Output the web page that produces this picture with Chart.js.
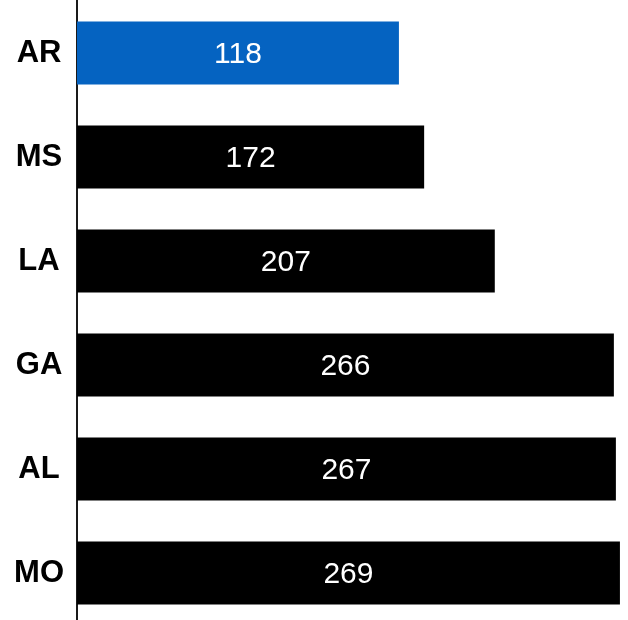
<!DOCTYPE html>
<html>
<head>
<meta charset="utf-8">
<script src="https://cdn.jsdelivr.net/npm/chart.js@4/dist/chart.umd.min.js"></script>
<style>
html,body{margin:0;padding:0;background:#fff;overflow:hidden;}
#wrap{position:absolute;left:0;top:0;width:628px;height:628px;}
</style>
</head>
<body>
<div id="wrap"><canvas id="c" width="628" height="628"></canvas></div>
<script>
// Data
const categories = ["AR", "MS", "LA", "GA", "AL", "MO"];
// Bar lengths as drawn (the AR bar is drawn longer than its printed label)
const barValues = [159.5, 172, 207, 266, 267, 269];
// Printed value labels
const labelValues = [118, 172, 207, 266, 267, 269];
const barColors = ["#0563C1", "#000000", "#000000", "#000000", "#000000", "#000000"];

const valueLabels = {
  id: 'valueLabels',
  afterDatasetsDraw(chart) {
    const ctx = chart.ctx;
    const meta = chart.getDatasetMeta(0);
    ctx.save();
    ctx.fillStyle = '#ffffff';
    ctx.font = '30px "Liberation Sans", Arial, sans-serif';
    ctx.textAlign = 'center';
    ctx.textBaseline = 'middle';
    meta.data.forEach((bar, i) => {
      const cx = (bar.x + bar.base) / 2;
      ctx.fillText(String(labelValues[i]), cx, bar.y + 1.5);
    });
    ctx.restore();
  }
};

new Chart(document.getElementById('c'), {
  type: 'bar',
  data: {
    labels: categories,
    datasets: [{
      data: barValues,
      backgroundColor: barColors,
      borderWidth: 0,
      categoryPercentage: 0.606,
      barPercentage: 1
    }]
  },
  options: {
    indexAxis: 'y',
    responsive: false,
    animation: false,
    layout: { padding: { top: 1, bottom: 3, left: 0, right: 0 } },
    plugins: { legend: { display: false }, tooltip: { enabled: false } },
    scales: {
      x: {
        display: false,
        min: 0,
        max: 273
      },
      y: {
        afterFit(scale) { scale.width = 77; scale.paddingTop = 0; scale.paddingBottom = 0; },
        grid: { display: false, drawTicks: false },
        border: { display: true, color: '#1a1a1a', width: 2 },
        ticks: {
          color: '#000000',
          crossAlign: 'center',
          padding: 13,
          font: { family: '"Liberation Sans", Arial, sans-serif', size: 31, weight: 'bold' }
        }
      }
    }
  },
  plugins: [valueLabels]
});
</script>
</body>
</html>
